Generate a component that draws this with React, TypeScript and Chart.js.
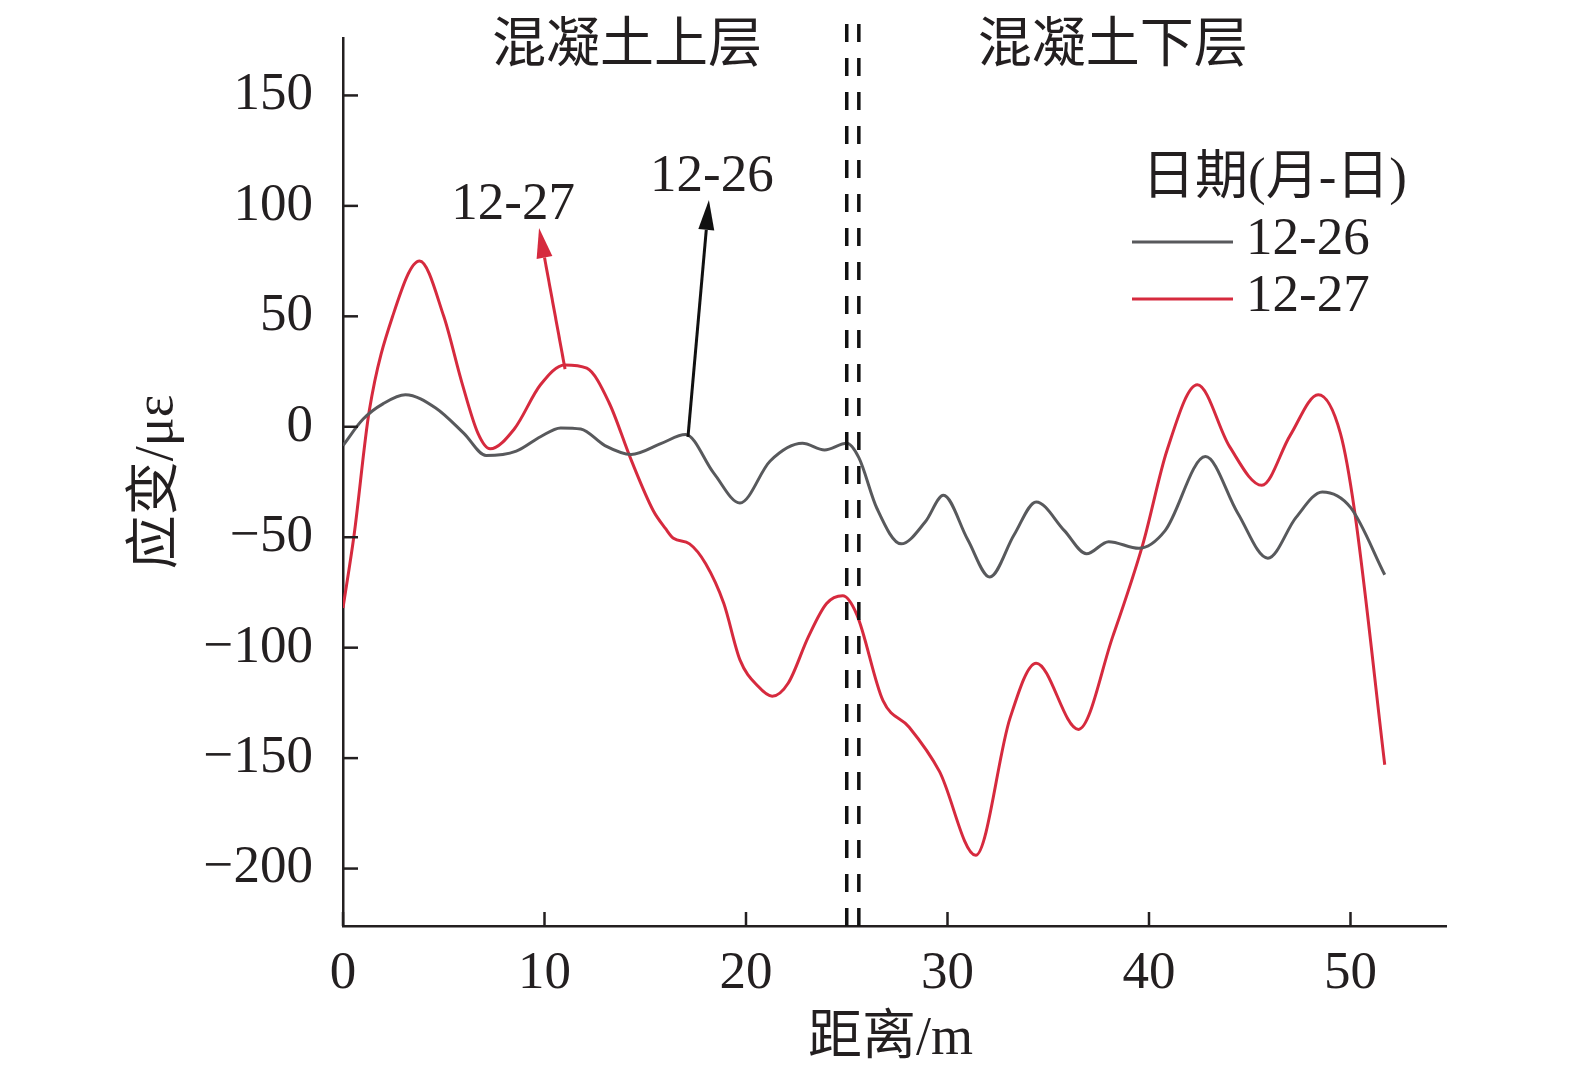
import React, { useEffect, useRef } from "react";
import { Chart, registerables } from "chart.js";

Chart.register(...registerables);

// ---- data ----
const grayDistance = [0, 1, 2, 3.1, 4.6, 6, 7.1, 8.6, 9.8, 10.8, 11.8, 13, 14.3, 15.8, 17.0, 18.4, 19.7, 21.2, 22.8, 23.9, 25.0, 25.6, 26.5, 27.7, 28.9, 29.8, 31.0, 32.1, 33.3, 34.4, 35.8, 36.9, 38.0, 39.5, 40.8, 42.8, 44.4, 45.9, 47.3, 48.6, 50.0, 51.7];
const grayStrain = [-8.5, 3.5, 10.5, 14.5, 8.5, -3, -13, -11, -4.5, -0.5, -1, -8.5, -12.5, -7.5, -3.5, -21, -34.5, -15.5, -7.5, -10.5, -7.5, -14, -37, -53, -43, -31, -51, -68, -49, -34, -47, -57.5, -52, -55, -47, -13.5, -39, -59.5, -41, -29.5, -36.5, -67];

const redDistance = [0, 0.55, 1.3, 2.5, 3.8, 5.0, 5.9, 6.7, 7.3, 8.5, 9.8, 11.0, 12.1, 13.2, 14.3, 15.4, 16.0, 16.4, 17.2, 18.0, 18.9, 19.7, 20.6, 21.3, 22.1, 23.1, 24.0, 24.8, 25.5, 26.8, 28.1, 29.6, 31.4, 33.1, 34.4, 36.5, 38.2, 39.7, 40.9, 42.4, 44.0, 45.6, 47.0, 48.4, 49.5, 50.2, 51.7];
const redStrain = [-82, -49, 7, 51, 75, 50, 20, -3, -10, -1, 19, 28, 26.5, 11, -15, -38, -46, -50.5, -53, -62, -80, -105.5, -117.5, -122, -116, -95, -80, -76.5, -85, -124, -136, -156, -194, -132, -107, -137, -95, -53, -10.5, 19, -9, -26.5, -4, 14.5, -3, -38, -153];

const xTickValues = [0, 10, 20, 30, 40, 50];
const yTickValues = [-200, -150, -100, -50, 0, 50, 100, 150];

const seriesLabels = ["12-26", "12-27"];
const boundaryX = [25.0, 25.6];
const layerLabels = ["混凝土上层", "混凝土下层"];
const legendTitle = "日期(月-日)";
const xTitle = "距离/m";
const yTitle = "应变/με";

const GRAY = "#58595c";
const RED = "#d62a3e";
const INK = "#231f20";
const SERIF = "'Liberation Serif', 'Noto Sans CJK SC', serif";

function drawArrow(ctx: CanvasRenderingContext2D, x0: number, y0: number, x1: number, y1: number, color: string) {
  const ang = Math.atan2(y1 - y0, x1 - x0);
  const headLen = 30;
  const half = 8;
  const bx = x1 - headLen * Math.cos(ang);
  const by = y1 - headLen * Math.sin(ang);
  ctx.save();
  ctx.strokeStyle = color;
  ctx.fillStyle = color;
  ctx.lineWidth = 3;
  ctx.setLineDash([]);
  ctx.beginPath();
  ctx.moveTo(x0, y0);
  ctx.lineTo(bx, by);
  ctx.stroke();
  ctx.beginPath();
  ctx.moveTo(x1, y1);
  ctx.lineTo(bx + half * Math.sin(ang), by - half * Math.cos(ang));
  ctx.lineTo(bx - half * Math.sin(ang), by + half * Math.cos(ang));
  ctx.closePath();
  ctx.fill();
  ctx.restore();
}

const decorPlugin = {
  id: "decor",
  afterDatasetsDraw(chart: any) {
    const { ctx, chartArea } = chart;
    const xs = chart.scales.x;
    const ys = chart.scales.y;
    ctx.save();

    // inner ticks
    ctx.strokeStyle = INK;
    ctx.lineWidth = 2.5;
    ys.ticks.forEach((t: any) => {
      const py = ys.getPixelForValue(t.value);
      ctx.beginPath();
      ctx.moveTo(chartArea.left, py);
      ctx.lineTo(chartArea.left + 15, py);
      ctx.stroke();
    });
    xs.ticks.forEach((t: any) => {
      const px = xs.getPixelForValue(t.value);
      ctx.beginPath();
      ctx.moveTo(px, chartArea.bottom);
      ctx.lineTo(px, chartArea.bottom - 14);
      ctx.stroke();
    });

    // layer boundary dashed lines
    ctx.strokeStyle = "#111111";
    ctx.lineWidth = 3.5;
    ctx.setLineDash([18, 16]);
    boundaryX.forEach((v) => {
      const px = xs.getPixelForValue(v);
      ctx.beginPath();
      ctx.moveTo(px, chartArea.bottom);
      ctx.lineTo(px, chartArea.top - 25);
      ctx.stroke();
    });
    ctx.setLineDash([]);

    // layer labels
    ctx.fillStyle = INK;
    ctx.font = `54px ${SERIF}`;
    ctx.textAlign = "center";
    ctx.textBaseline = "middle";
    ctx.fillText(layerLabels[0], xs.getPixelForValue(14.1), ys.getPixelForValue(171.5));
    ctx.fillText(layerLabels[1], xs.getPixelForValue(38.2), ys.getPixelForValue(171.5));

    // arrow annotations
    ctx.font = `53px ${SERIF}`;
    ctx.fillText(seriesLabels[1], xs.getPixelForValue(8.44), ys.getPixelForValue(100.4));
    ctx.fillText(seriesLabels[0], xs.getPixelForValue(18.31), ys.getPixelForValue(113));
    drawArrow(ctx, xs.getPixelForValue(11.02), ys.getPixelForValue(26.1), xs.getPixelForValue(9.73), ys.getPixelForValue(90), RED);
    drawArrow(ctx, xs.getPixelForValue(17.12), ys.getPixelForValue(-4.6), xs.getPixelForValue(18.16), ys.getPixelForValue(102.7), "#111111");

    // legend
    const lx0 = chartArea.right - 314;
    ctx.textAlign = "left";
    ctx.fillText(legendTitle, lx0 + 10, 180);
    const rows = [
      { label: seriesLabels[0], color: GRAY, y: 242 },
      { label: seriesLabels[1], color: RED, y: 299 },
    ];
    rows.forEach((r) => {
      ctx.strokeStyle = r.color;
      ctx.lineWidth = 2.8;
      ctx.beginPath();
      ctx.moveTo(lx0, r.y);
      ctx.lineTo(lx0 + 101, r.y);
      ctx.stroke();
      ctx.fillStyle = INK;
      ctx.fillText(r.label, lx0 + 114, r.y - 2);
    });

    // axis titles
    ctx.font = `54px ${SERIF}`;
    ctx.textAlign = "center";
    ctx.fillText(xTitle, (chartArea.left + chartArea.right) / 2 - 4, 1040);
    ctx.save();
    ctx.translate(158, 482);
    ctx.rotate(-Math.PI / 2);
    ctx.fillText(yTitle, 0, 0);
    ctx.restore();

    ctx.restore();
  },
};

export default function App() {
  const canvasRef = useRef<HTMLCanvasElement | null>(null);

  useEffect(() => {
    if (!canvasRef.current) return;
    const chart = new Chart(canvasRef.current, {
      type: "line",
      data: {
        datasets: [
          {
            label: seriesLabels[0],
            data: grayDistance.map((d, i) => ({ x: d, y: grayStrain[i] })),
            borderColor: GRAY,
            borderWidth: 3,
            pointRadius: 0,
            fill: false,
            cubicInterpolationMode: "monotone",
          },
          {
            label: seriesLabels[1],
            data: redDistance.map((d, i) => ({ x: d, y: redStrain[i] })),
            borderColor: RED,
            borderWidth: 3,
            pointRadius: 0,
            fill: false,
            cubicInterpolationMode: "monotone",
          },
        ],
      },
      options: {
        responsive: false,
        animation: false,
        devicePixelRatio: 1,
        layout: { padding: { top: 38, right: 129, left: 0, bottom: 0 } },
        plugins: { legend: { display: false }, tooltip: { enabled: false } },
        scales: {
          x: {
            type: "linear",
            min: 0,
            max: 54.74,
            grid: { display: false, drawTicks: false },
            border: { display: true, color: INK, width: 2.5 },
            ticks: {
              padding: 16,
              color: INK,
              font: { family: SERIF, size: 53 },
              maxRotation: 0,
              autoSkip: false,
            },
            afterBuildTicks: (scale: any) => {
              scale.ticks = xTickValues.map((v) => ({ value: v }));
            },
            afterFit: (scale: any) => {
              scale.height = 154;
              scale.paddingLeft = 0;
              scale.paddingRight = 0;
              scale.paddingTop = 0;
              scale.paddingBottom = 0;
            },
          },
          y: {
            type: "linear",
            min: -226,
            max: 176,
            grid: { display: false, drawTicks: false },
            border: { display: true, color: INK, width: 2.5 },
            ticks: {
              padding: 30,
              color: INK,
              autoSkip: false,
              font: { family: SERIF, size: 53 },
              callback: (v: any) => String(v).replace("-", "\u2212"),
            },
            afterBuildTicks: (scale: any) => {
              scale.ticks = yTickValues.map((v) => ({ value: v }));
            },
            afterFit: (scale: any) => {
              scale.width = 343;
              scale.paddingLeft = 0;
              scale.paddingRight = 0;
              scale.paddingTop = 0;
              scale.paddingBottom = 0;
            },
          },
        },
      },
      plugins: [decorPlugin],
    });
    return () => chart.destroy();
  }, []);

  return (
    <div style={{ position: "fixed", left: 0, top: 0, width: 1575, height: 1080, background: "#fff" }}>
      <canvas ref={canvasRef} width={1575} height={1080} style={{ width: 1575, height: 1080, display: "block" }} />
    </div>
  );
}
